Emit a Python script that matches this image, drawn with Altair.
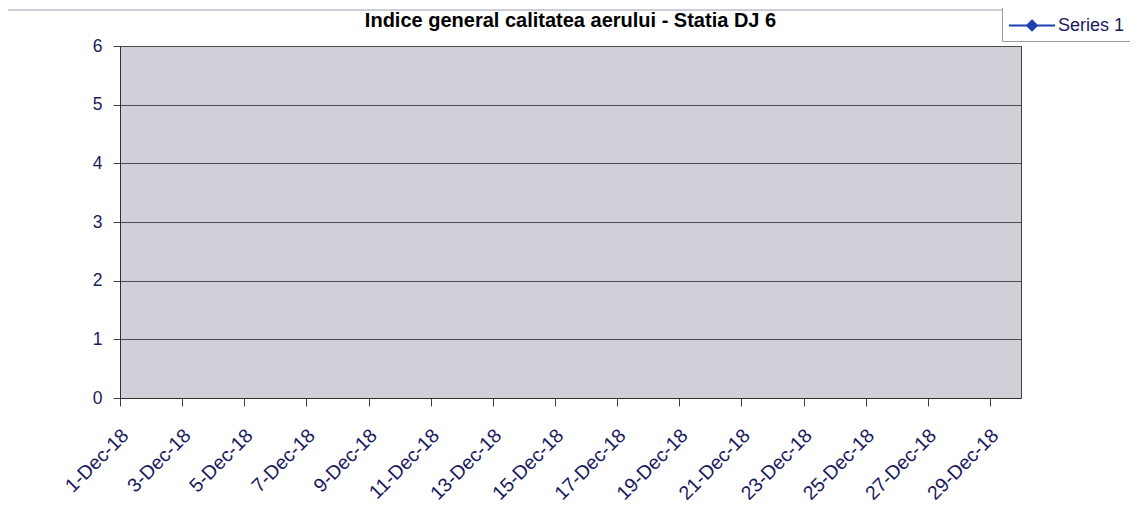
import altair as alt
import pandas as pd

# ---- data (the series in the reference has no plotted values) ----
dates = ["2018-12-01", "2018-12-02", "2018-12-03", "2018-12-04", "2018-12-05",
         "2018-12-06", "2018-12-07", "2018-12-08", "2018-12-09", "2018-12-10",
         "2018-12-11", "2018-12-12", "2018-12-13", "2018-12-14", "2018-12-15",
         "2018-12-16", "2018-12-17", "2018-12-18", "2018-12-19", "2018-12-20",
         "2018-12-21", "2018-12-22", "2018-12-23", "2018-12-24", "2018-12-25",
         "2018-12-26", "2018-12-27", "2018-12-28", "2018-12-29", "2018-12-30"]
values = [None, None, None, None, None, None, None, None, None, None,
          None, None, None, None, None, None, None, None, None, None,
          None, None, None, None, None, None, None, None, None, None]
series_name = "Series 1"
tick_days = [1, 3, 5, 7, 9, 11, 13, 15, 17, 19, 21, 23, 25, 27, 29]
y_ticks = [0, 1, 2, 3, 4, 5, 6]
title_text = "Indice general calitatea aerului - Statia DJ 6"

df = pd.DataFrame({"date": dates, "value": values, "series": [series_name] * len(dates)})

NAVY = "#1a1a5e"
BLUE = "#1f3fb0"
FONT = "Liberation Sans"

x_enc = alt.X(
    "date:T",
    scale=alt.Scale(
        type="utc", nice=False,
        domain=[alt.DateTime(year=2018, month=12, date=1, utc=True),
                alt.DateTime(year=2018, month=12, date=30, utc=True)],
    ),
    axis=alt.Axis(
        values=[alt.DateTime(year=2018, month=12, date=d, utc=True) for d in tick_days],
        format="%-d-%b-%y", title=None, grid=False,
        labelAngle=315, labelAlign="right", labelBaseline="middle",
        labelFontSize=19.5, labelPadding=26, labelOffset=5, tickSize=8,
        labelOverlap=False,
    ),
)
y_enc = alt.Y(
    "value:Q",
    scale=alt.Scale(domain=[0, 6], nice=False),
    axis=alt.Axis(values=y_ticks, title=None, grid=True, labelFontSize=17.5,
                  labelPadding=11, tickSize=7),
)
color_enc = alt.Color(
    "series:N",
    scale=alt.Scale(domain=[series_name], range=[BLUE]),
    legend=alt.Legend(
        title=None, orient="none", legendX=882, legendY=-39,
        symbolType="M-1,0L3,0M1,-0.43L1.43,0L1,0.43L0.57,0Z",
        symbolSize=529, symbolStrokeWidth=2,
        symbolStrokeColor=BLUE, symbolFillColor=BLUE,
        labelFontSize=18, labelColor=NAVY, labelFont=FONT, labelOffset=25,
        padding=6, strokeColor="#9a9aa6", fillColor="white",
    ),
)

base = alt.Chart(df)
points = base.mark_point(shape="diamond", filled=True, opacity=1, size=80).encode(
    x=x_enc, y=y_enc, color=color_enc)
line = base.mark_line(strokeWidth=2).encode(x=x_enc, y=y_enc, color=color_enc)

frame = alt.Chart(alt.Data(values=[{}])).mark_rect(
    fillOpacity=0, stroke="#9c9cb0", strokeWidth=1
).encode(x=alt.value(-113), x2=alt.value(1030), y=alt.value(-36), y2=alt.value(490))

chart = alt.layer(frame, points, line).properties(
    width=901, height=352,
    autosize=alt.AutoSizeParams(type="none"),
    padding={"left": 112, "top": 38, "right": 109, "bottom": 110},
    title=alt.TitleParams(title_text, font=FONT, fontSize=20, fontWeight="bold",
                          color="black", anchor="middle", frame="group",
                          baseline="alphabetic", offset=0, dy=40),
).configure_view(
    fill="#d0d1d8", stroke="#404040", strokeWidth=1,
).configure_axis(
    labelFont=FONT, labelColor=NAVY, domainColor="#303030", tickColor="#404040",
    gridColor="#4a4a4a", gridOpacity=1, gridWidth=1, domainWidth=1,
)

chart.save("out.html", embed_options={"renderer": "svg", "actions": False})
